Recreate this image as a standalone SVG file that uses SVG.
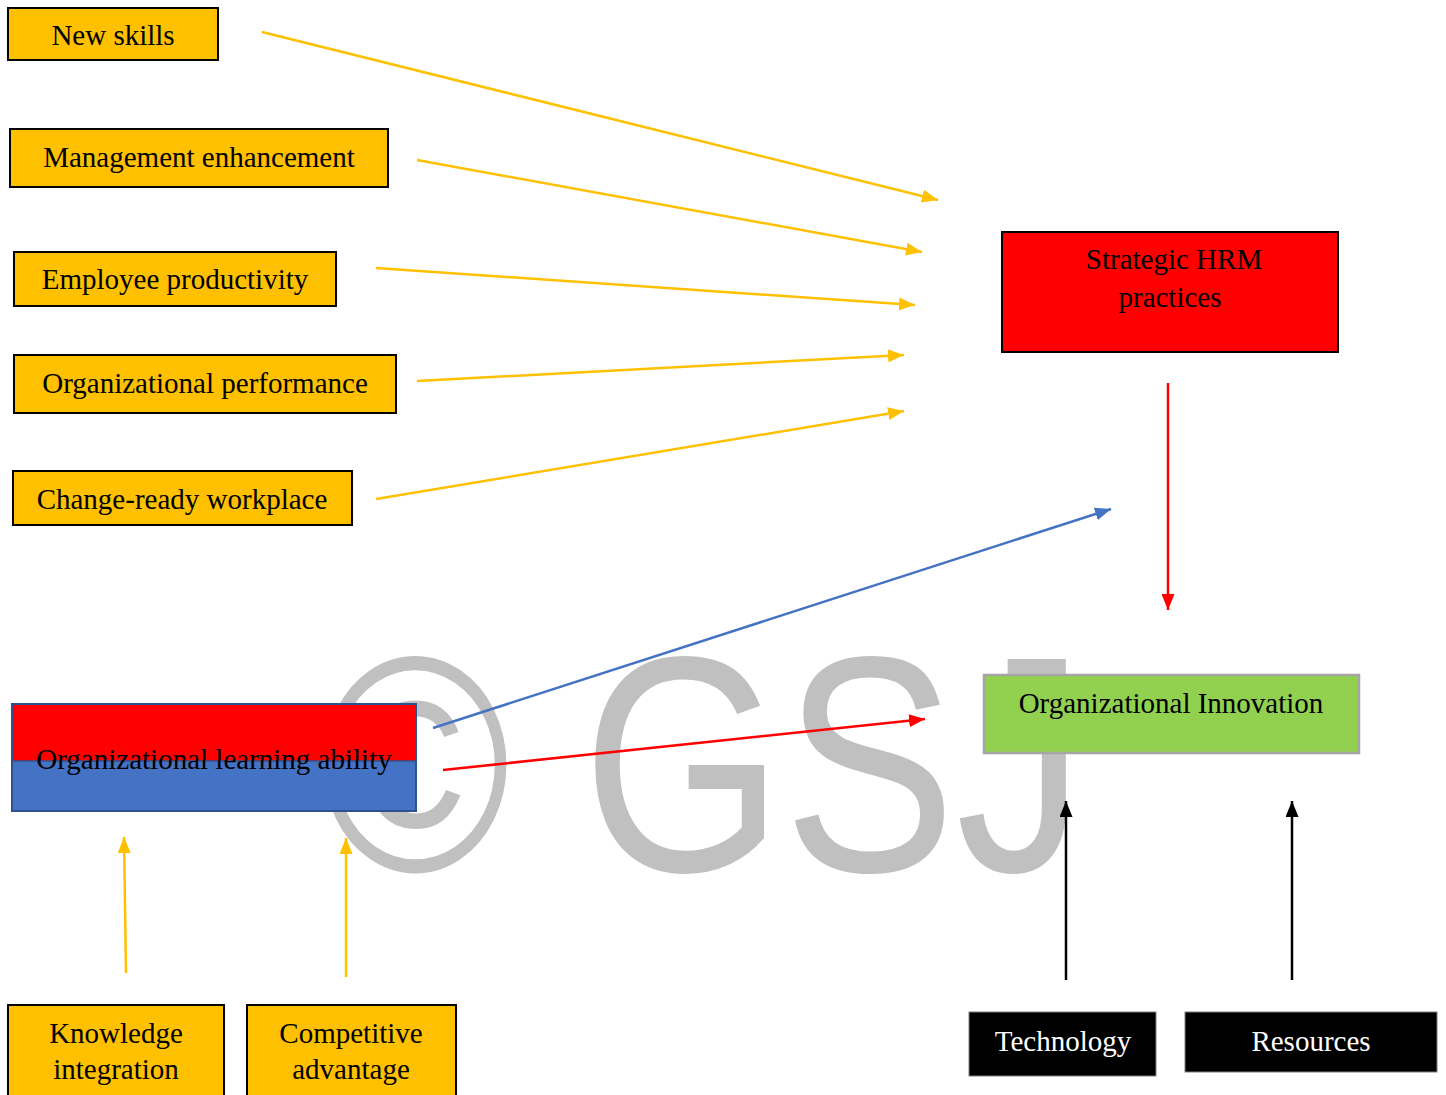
<svg xmlns="http://www.w3.org/2000/svg" width="1446" height="1095" viewBox="0 0 1446 1095">
<style>
.box{fill:#ffc000;stroke:#000;stroke-width:2}
.t{font-family:"Liberation Serif","Times New Roman",serif;font-size:29px;fill:#000;text-anchor:middle}
.w{fill:#fff}
.ey{stroke:#ffc000;stroke-width:2.5;fill:none;marker-end:url(#ay)}
.eb{stroke:#4472c4;stroke-width:2.5;fill:none;marker-end:url(#ab)}
.er{stroke:#ff0000;stroke-width:2.5;fill:none;marker-end:url(#ar)}
.ek{stroke:#000;stroke-width:2.5;fill:none;marker-end:url(#ak)}
</style>
<defs>
<marker id="ay" markerUnits="userSpaceOnUse" markerWidth="17" markerHeight="13" refX="16" refY="6.5" orient="auto"><path d="M0,0 L16,6.5 L0,13 z" fill="#ffc000"/></marker>
<marker id="ab" markerUnits="userSpaceOnUse" markerWidth="17" markerHeight="13" refX="16" refY="6.5" orient="auto"><path d="M0,0 L16,6.5 L0,13 z" fill="#4472c4"/></marker>
<marker id="ar" markerUnits="userSpaceOnUse" markerWidth="17" markerHeight="13" refX="16" refY="6.5" orient="auto"><path d="M0,0 L16,6.5 L0,13 z" fill="#ff0000"/></marker>
<marker id="ak" markerUnits="userSpaceOnUse" markerWidth="17" markerHeight="13" refX="16" refY="6.5" orient="auto"><path d="M0,0 L16,6.5 L0,13 z" fill="#000"/></marker>
</defs>
<rect width="1446" height="1095" fill="#fff"/>
<text id="watermark" x="320" y="871" font-family="Liberation Sans, Arial, sans-serif" font-size="308" fill="#c0c0c0" textLength="765" lengthAdjust="spacingAndGlyphs">© GSJ</text>

<g id="new-skills"><rect class="box" x="8" y="8" width="210" height="52"/><text class="t" x="113" y="45">New skills</text></g>
<g id="management-enhancement"><rect class="box" x="10" y="129" width="378" height="58"/><text class="t" x="199" y="167">Management enhancement</text></g>
<g id="employee-productivity"><rect class="box" x="14" y="252" width="322" height="54"/><text class="t" x="175" y="289">Employee productivity</text></g>
<g id="organizational-performance"><rect class="box" x="14" y="355" width="382" height="58"/><text class="t" x="205" y="393">Organizational performance</text></g>
<g id="change-ready-workplace"><rect class="box" x="13" y="471" width="339" height="54"/><text class="t" x="182" y="509">Change-ready workplace</text></g>
<g id="strategic-hrm"><rect x="1002" y="232" width="336" height="120" fill="#ff0000" stroke="#000" stroke-width="2"/><text class="t" x="1174" y="269">Strategic HRM</text><text class="t" x="1170" y="307">practices</text></g>
<g id="organizational-learning-ability"><rect x="12" y="704" width="404" height="57" fill="#ff0000"/><rect x="12" y="761" width="404" height="50" fill="#4472c4"/><rect x="12" y="704" width="404" height="107" fill="none" stroke="#2f528f" stroke-width="2"/><line x1="12" y1="761" x2="416" y2="761" stroke="#2f528f" stroke-width="1.5"/><text class="t" x="214" y="769">Organizational learning ability</text></g>
<g id="organizational-innovation"><rect x="984" y="675" width="375" height="78" fill="#92d050" stroke="#a5a5a5" stroke-width="2.5"/><text class="t" x="1171" y="713">Organizational Innovation</text></g>
<g id="technology"><rect x="969" y="1012" width="187" height="64" fill="#000" stroke="#7f7f7f" stroke-width="1"/><text class="t w" x="1063" y="1051">Technology</text></g>
<g id="resources"><rect x="1185" y="1012" width="252" height="60" fill="#000" stroke="#7f7f7f" stroke-width="1"/><text class="t w" x="1311" y="1051">Resources</text></g>
<g id="knowledge-integration"><rect class="box" x="8" y="1005" width="216" height="100"/><text class="t" x="116" y="1043">Knowledge</text><text class="t" x="116" y="1079">integration</text></g>
<g id="competitive-advantage"><rect class="box" x="247" y="1005" width="209" height="100"/><text class="t" x="351" y="1043">Competitive</text><text class="t" x="351" y="1079">advantage</text></g>

<g id="connectors">
<line class="ey" x1="262" y1="32" x2="938" y2="200"/>
<line class="ey" x1="417" y1="160" x2="922" y2="252"/>
<line class="ey" x1="376" y1="268" x2="915" y2="305"/>
<line class="ey" x1="417" y1="381" x2="904" y2="355"/>
<line class="ey" x1="376" y1="499" x2="904" y2="411"/>
<line class="eb" x1="433" y1="728" x2="1111" y2="509"/>
<line class="er" x1="1168" y1="383" x2="1168" y2="610"/>
<line class="er" x1="443" y1="770" x2="925" y2="719"/>
<line class="ey" x1="126" y1="973" x2="124" y2="837"/>
<line class="ey" x1="346" y1="977" x2="346" y2="838"/>
<line class="ek" x1="1066" y1="980" x2="1066" y2="801"/>
<line class="ek" x1="1292" y1="980" x2="1292" y2="801"/>
</g>
</svg>
